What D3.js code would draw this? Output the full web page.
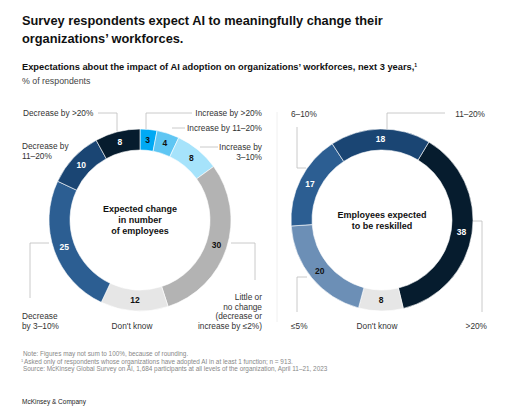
<!DOCTYPE html>
<head>
  <meta charset="utf-8">
  <script src="https://d3js.org/d3.v7.min.js"></script>
  <style>
    body { margin:0; padding:0; background:#fff; }
    svg { font-family: "Liberation Sans", Arial, sans-serif; }
    .lead { fill:none; stroke:#bdbdbd; stroke-width:0.8px; }
    .lbl { font-size:8.3px; fill:#333; }
    .val { font-size:8.5px; font-weight:bold; }
    .mid { font-size:9px; font-weight:bold; fill:#111; }
    .note { font-size:6.4px; fill:#888; }
  </style>
</head>

<body>
  <script>
    var width = 512, height = 418;

    // left donut: expected change in number of employees
    var changeCats = ["Increase by >20%", "Increase by 11\u201320%", "Increase by 3\u201310%",
      "Little or no change", "Don't know", "Decrease by 3\u201310%", "Decrease by 11\u201320%", "Decrease by >20%"];
    var changeVals = [3, 4, 8, 30, 12, 25, 10, 8];
    var changeColors = ["#00a9f4", "#5fc6f3", "#a6e3fb", "#b3b3b3", "#e6e6e6", "#2c5e92", "#1a4573", "#061c2e"];

    // right donut: employees expected to be reskilled
    var reskillCats = [">20%", "Don't know", "\u22645%", "6\u201310%", "11\u201320%"];
    var reskillVals = [38, 8, 20, 17, 18];
    var reskillColors = ["#061c2e", "#e6e6e6", "#6c8fb6", "#2c5e92", "#1a4573"];

    var svg = d3.select("body").append("svg")
      .attr("width", width)
      .attr("height", height);

    // titles
    var title = ["Survey respondents expect AI to meaningfully change their", "organizations\u2019 workforces."];
    svg.selectAll(".title").data(title).enter().append("text")
      .attr("x", 22).attr("y", function(d, i) { return 25 + i * 17.5; })
      .style("font-size", "12.8px").style("font-weight", "bold").style("fill", "#111")
      .text(function(d) { return d; });

    var sub = svg.append("text").attr("x", 22).attr("y", 70)
      .style("font-size", "9.3px").style("font-weight", "bold").style("fill", "#111")
      .text("Expectations about the impact of AI adoption on organizations\u2019 workforces, next 3 years,");
    sub.append("tspan").attr("dy", -3).style("font-size", "5px").text("1");
    svg.append("text").attr("x", 22).attr("y", 84)
      .style("font-size", "8.8px").style("fill", "#444")
      .text("% of respondents");

    var rOut = 91, rIn = 70;
    var arc = d3.arc().innerRadius(rIn).outerRadius(rOut);

    function donut(cx, cy, vals, colors, start, darkText, centerLines) {
      var g = svg.append("g").attr("transform", "translate(" + cx + "," + cy + ")");
      var pie = d3.pie().sort(null).startAngle(start).endAngle(start + 2 * Math.PI);
      var arcs = pie(vals);
      g.selectAll("path").data(arcs).enter().append("path")
        .attr("d", arc)
        .style("fill", function(d, i) { return colors[i]; })
        .style("stroke", "#fff").style("stroke-width", 0.6);
      g.selectAll(".val").data(arcs).enter().append("text")
        .attr("class", "val")
        .attr("transform", function(d) { return "translate(" + arc.centroid(d) + ")"; })
        .attr("text-anchor", "middle").attr("dy", "0.35em")
        .style("fill", function(d, i) { return darkText[i] ? "#111" : "#fff"; })
        .text(function(d) { return d.data; });
      g.selectAll(".mid").data(centerLines).enter().append("text")
        .attr("class", "mid").attr("text-anchor", "middle")
        .attr("y", function(d, i) { return (i - (centerLines.length - 1) / 2) * 11 + 3; })
        .text(function(d) { return d; });
      return g;
    }

    donut(140, 220, changeVals, changeColors, 0,
      [true, true, true, true, true, false, false, false],
      ["Expected change", "in number", "of employees"]);
    donut(382, 220, reskillVals, reskillColors, 31 * Math.PI / 180,
      [false, true, true, false, false],
      ["Employees expected", "to be reskilled"]);

    // outside labels (lines split by category)
    function label(x, y, anchor, lines) {
      svg.append("text").attr("class", "lbl").attr("text-anchor", anchor)
        .selectAll("tspan").data(lines).enter().append("tspan")
        .attr("x", x).attr("y", function(d, i) { return y + i * 9.7; })
        .text(function(d) { return d; });
    }
    function lead(pts) {
      svg.append("path").attr("class", "lead").attr("d", d3.line()(pts));
    }

    label(23, 116, "start", [changeCats[7]]);
    lead([[98, 113], [117, 113], [117, 131]]);
    label(262, 116, "end", [changeCats[0]]);
    lead([[192, 113], [146, 113], [146, 129]]);
    label(262, 131, "end", [changeCats[1]]);
    lead([[172, 128], [185, 128]]);
    label(262, 150, "end", ["Increase by", "3\u201310%"]);
    lead([[200, 147], [218, 147]]);
    label(22, 149, "start", ["Decrease by", "11\u201320%"]);
    label(22, 319, "start", ["Decrease", "by 3\u201310%"]);
    lead([[49, 243], [30, 243], [30, 298]]);
    label(132, 329, "middle", [changeCats[4]]);
    label(262, 300, "end", ["Little or", "no change", "(decrease or", "increase by \u22642%)"]);
    lead([[231, 243], [255, 243], [255, 280]]);

    label(291, 117, "start", [reskillCats[3]]);
    lead([[297, 127], [297, 168], [306, 168]]);
    label(485, 117, "end", [reskillCats[4]]);
    lead([[387, 129], [387, 113], [445, 113]]);
    label(487, 329, "end", [reskillCats[0]]);
    lead([[473, 221], [482, 221], [482, 312]]);
    label(377, 329, "middle", [reskillCats[1]]);
    label(291, 329, "start", [reskillCats[2]]);
    lead([[307, 277], [297, 277], [297, 312]]);

    svg.append("line").attr("x1", 277).attr("x2", 277).attr("y1", 112).attr("y2", 322)
      .style("stroke", "#ececec").style("stroke-width", 0.8);

    // notes
    var notes = ["Note: Figures may not sum to 100%, because of rounding.",
      "Asked only of respondents whose organizations have adopted AI in at least 1 function; n = 913.",
      "Source: McKinsey Global Survey on AI, 1,684 participants at all levels of the organization, April 11\u201321, 2023"];
    svg.selectAll(".note").data(notes).enter().append("text")
      .attr("class", "note").attr("x", function(d, i) { return i == 1 ? 24 : 23; })
      .attr("y", function(d, i) { return 356 + i * 7.6; })
      .text(function(d) { return d; });
    svg.append("text").attr("class", "note").attr("x", 21).attr("y", 362).style("font-size", "4px").text("1");

    svg.append("text").attr("x", 22).attr("y", 404)
      .style("font-size", "6.5px").style("fill", "#222")
      .text("McKinsey & Company");
  </script>
</body>
